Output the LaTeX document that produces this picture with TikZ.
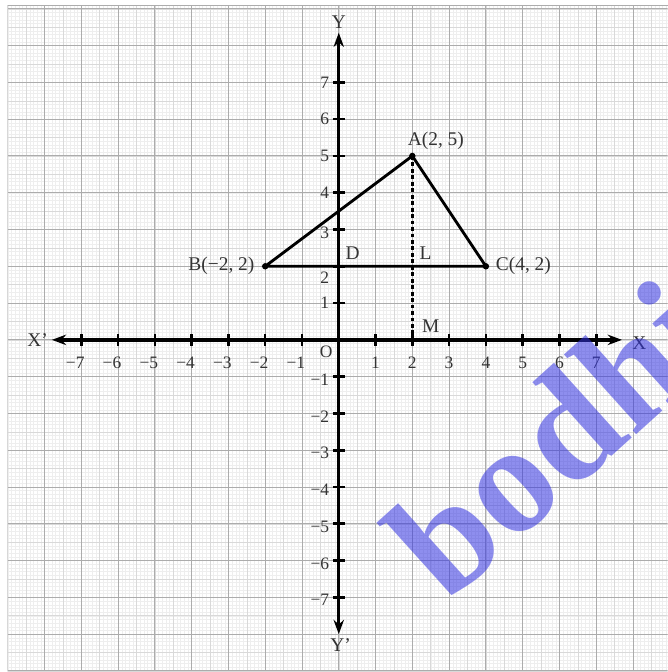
\documentclass[tikz,border=0pt]{standalone}
\usepackage{fontspec}
\setmainfont{Liberation Serif}
\usetikzlibrary{arrows.meta}

\definecolor{wmblue}{RGB}{50,50,225}

\begin{document}
\begin{tikzpicture}[
    finegrid/.style={gray!13, line width=0.3pt},
    midgrid/.style={gray!30, line width=0.4pt},
    majorgrid/.style={gray!65, line width=0.7pt},
    axis/.style={line width=2.6pt, {Stealth[length=11pt,width=8pt]}-{Stealth[length=11pt,width=8pt]}},
    axistick/.style={line width=2pt},
    tri/.style={line width=2.2pt, line join=round},
    perp/.style={line width=2pt, dash pattern=on 3pt off 2pt},
    ticklabel/.style={font=\fontsize{13.5}{15}\selectfont, text=black!80, inner sep=1pt},
    pointlabel/.style={font=\fontsize{15}{18}\selectfont, text=black!80, inner sep=1pt},
    vertex/.style={circle, fill=black, inner sep=0pt, minimum size=5pt},
    watermark/.style={font=\bfseries\fontsize{120}{120}\selectfont, text=wmblue, text opacity=0.55, inner sep=0pt},
]

% Seite
\useasboundingbox[fill=white] (-9.21,-9.03) rectangle (8.94,9.24);

% Millimeterpapier
\begin{scope}
\clip (-9.0,-9.03) rectangle (8.94,9.08);
\draw[finegrid] (-9.2,-9.2) grid[step=0.1] (9.2,9.2);
\draw[midgrid] (-9.5,-9.5) grid[step=0.5] (9.5,9.5);
\draw[majorgrid] (-9,-9) grid[step=1] (9.5,9.5);
\end{scope}
\draw[majorgrid] (-9.0,9.08) -- (8.94,9.08);

% Achsen
\coordinate (xl) at (-7.8,0);
\coordinate (xr) at (7.7,0);
\coordinate (yt) at (0,8.35);
\coordinate (yb) at (0,-8.0);
\draw[axis] (xl) -- (xr);
\draw[axis] (yb) -- (yt);

\node[pointlabel] (xlab) at (-8.19,0) {X'};
\node[pointlabel] (xrlab) at (8.17,-0.08) {X};
\node[pointlabel] (ytlab) at (0,8.65) {Y};
\node[pointlabel] (yblab) at (0.05,-8.29) {Y'};
\node[ticklabel] (o) at (-0.34,-0.33) {O};

% Teilstriche
\foreach \k in {-7,...,-1,1,2,...,7} {
    \draw[axistick] (\k,-0.17) -- (\k,0.17);
    \draw[axistick] (-0.17,\k) -- (0.17,\k);
}

% Beschriftung x
\foreach \k in {1,...,7} {
    \node[ticklabel] (xp\k) at (\k,-0.62) {\k};
    \node[ticklabel, anchor=east] (xn\k) at (-\k+0.13,-0.62) {−\k};
}

% Beschriftung y
\foreach \k in {1,4,5,6,7}
    \node[ticklabel, anchor=east] (yp\k) at (-0.22,\k) {\k};
\node[ticklabel, anchor=east] (yp3) at (-0.22,2.9) {3};
\node[ticklabel, anchor=east] (yp2) at (-0.22,1.7) {2};
\foreach \k in {1,...,7}
    \node[ticklabel, anchor=east] (yn\k) at (-0.22,-\k-0.08) {−\k};

% Dreieck
\node[vertex] (A) at (2,5) {};
\node[vertex] (B) at (-2,2) {};
\node[vertex] (C) at (4,2) {};
\coordinate (M) at (2,0);
\draw[tri] (A.center) -- (B.center) -- (C.center) -- cycle;
\draw[perp] (A.center) -- (M);

\node[pointlabel] (Alab) at (2.64,5.41) {A(2, 5)};
\node[pointlabel] (Blab) at (-3.19,2.0) {B(−2, 2)};
\node[pointlabel] (Clab) at (5.02,2.0) {C(4, 2)};
\node[pointlabel] (Dlab) at (0.38,2.36) {D};
\node[pointlabel] (Llab) at (2.36,2.36) {L};
\node[pointlabel] (Mlab) at (2.5,0.37) {M};

% Wasserzeichen
\node[watermark, rotate=42, anchor=base west] (wm) at (2.95,-7.2) {bodhi};
\end{tikzpicture}
\end{document}
